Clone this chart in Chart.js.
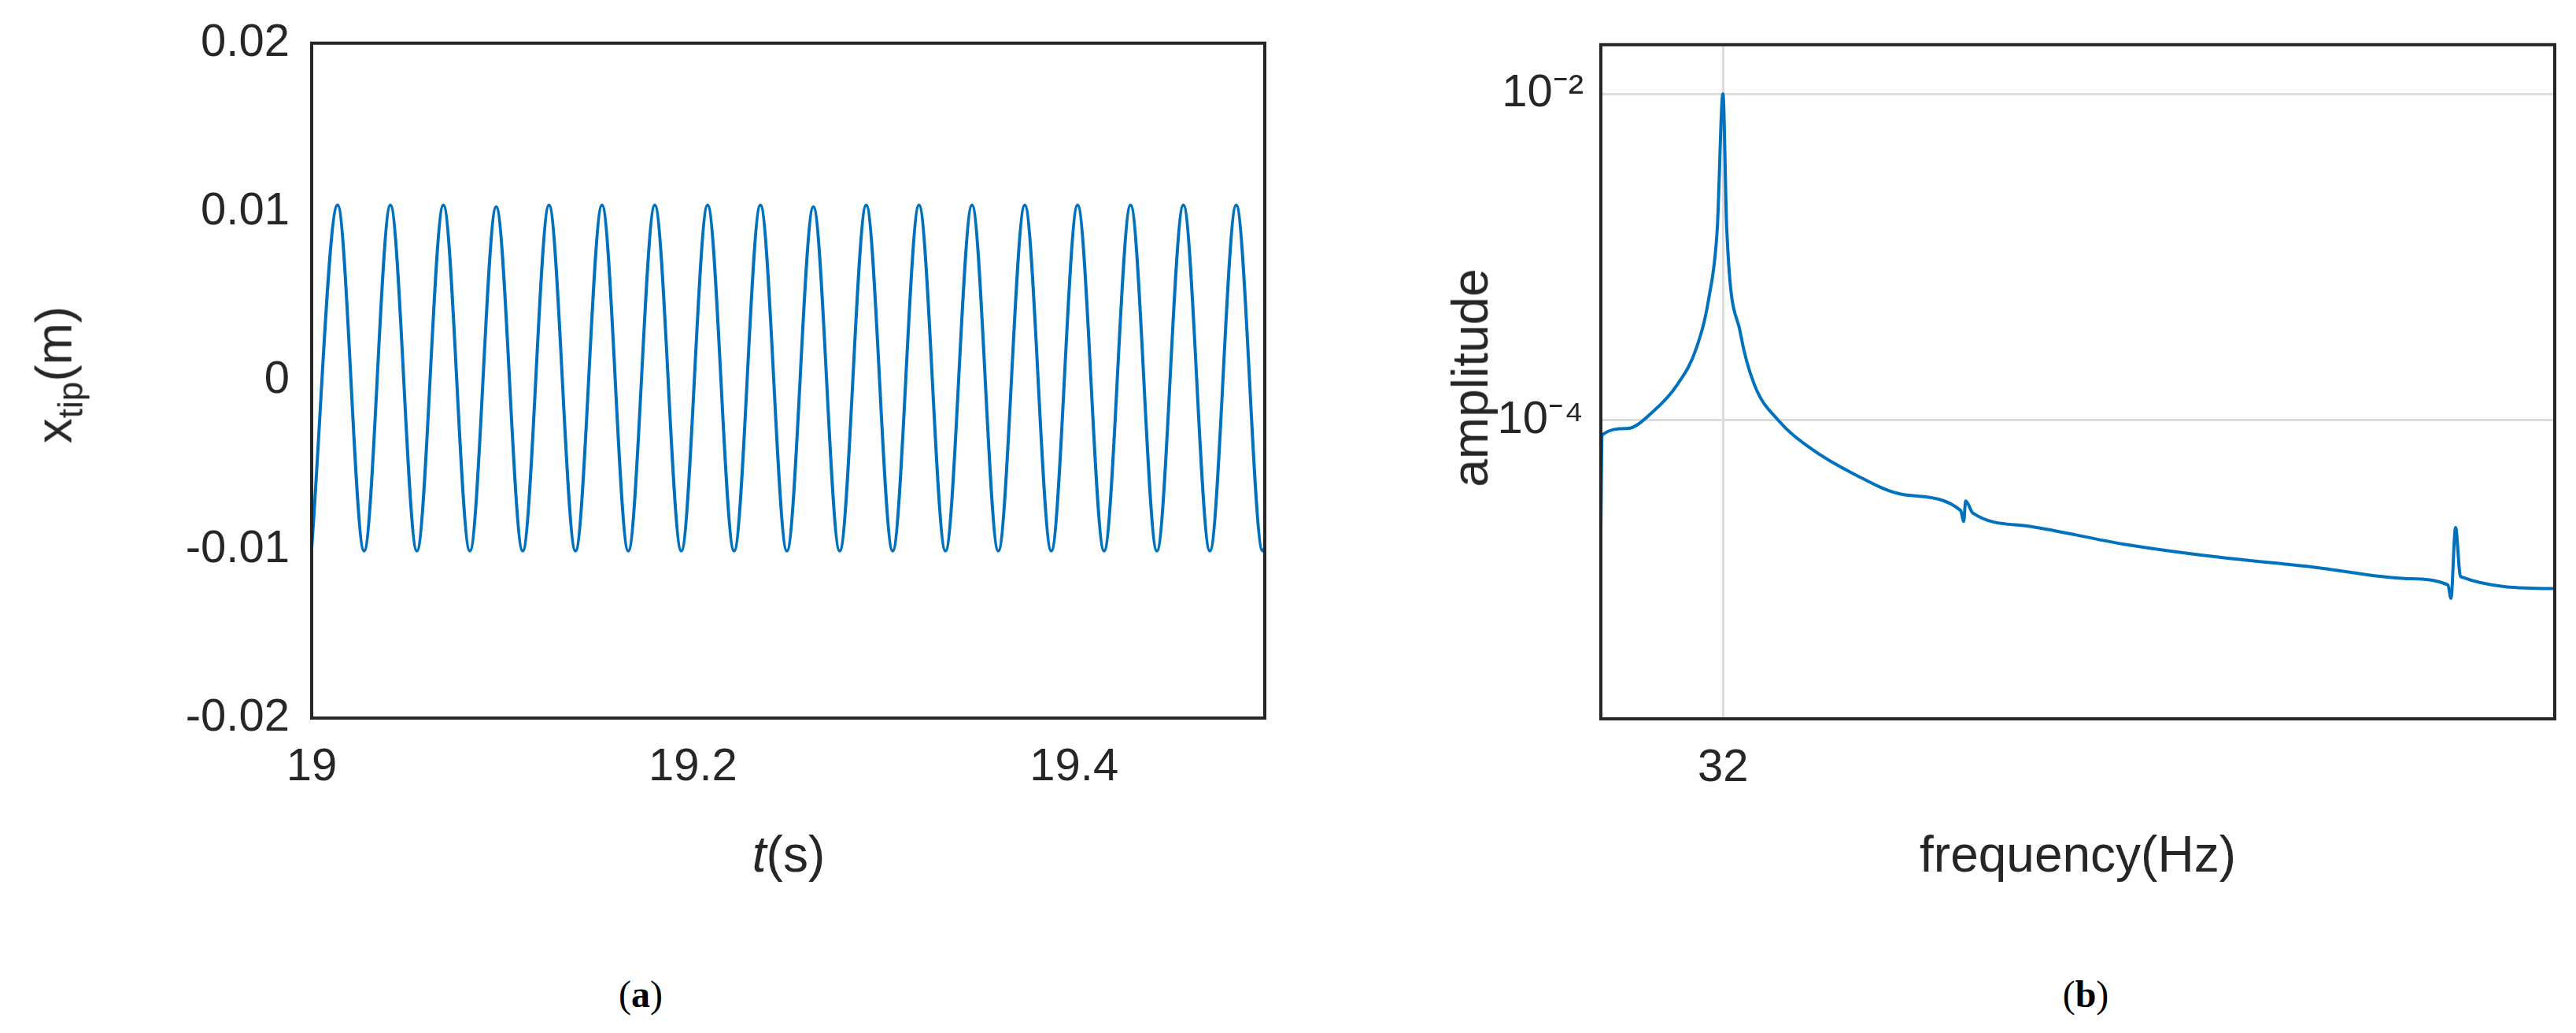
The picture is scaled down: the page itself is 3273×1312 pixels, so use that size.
<!DOCTYPE html>
<html>
<head>
<meta charset="utf-8">
<script src="https://cdn.jsdelivr.net/npm/chart.js@4"></script>
<style>
  body { margin: 0; width: 3273px; height: 1312px; background: #fff; position: relative; overflow: hidden; }
  .box { position: absolute; }
  .lbl { position: absolute; font-family: "Liberation Sans", Arial, sans-serif; font-size: 64px; color: #262626; white-space: nowrap; }
  .cap { position: absolute; font-family: "Liberation Serif", "Times New Roman", serif; font-size: 48px; color: #000; }
</style>
</head>
<body>
<div class="box" style="left:0;top:0;width:1640px;height:1000px"><canvas id="timeChart"></canvas></div>
<div class="box" style="left:1640px;top:0;width:1633px;height:1000px"><canvas id="fftChart"></canvas></div>

<div class="lbl" style="left:73px;top:476px;transform:translate(-50%,-50%) rotate(-90deg)">x<sub style="font-size:44px">tip</sub>(m)</div>
<div class="lbl" style="left:1002px;top:1085px;transform:translate(-50%,-50%)"><i>t</i>(s)</div>
<div class="lbl" style="left:1868px;top:480px;transform:translate(-50%,-50%) rotate(-90deg)">amplitude</div>
<div class="lbl" style="left:2640px;top:1085px;transform:translate(-50%,-50%)">frequency(Hz)</div>
<div class="cap" style="left:814px;top:1262px;transform:translate(-50%,-50%)">(<b>a</b>)</div>
<div class="cap" style="left:2650px;top:1262px;transform:translate(-50%,-50%)">(<b>b</b>)</div>

<script>
// (a) tip displacement, extrema
var timeS = [19.0, 19.0136, 19.0275, 19.0413, 19.0552, 19.0691, 19.0830, 19.0968, 19.1107,
  19.1245, 19.1384, 19.1523, 19.1661, 19.1800, 19.1939, 19.2077, 19.2216, 19.2354, 19.2493,
  19.2632, 19.2770, 19.2909, 19.3048, 19.3186, 19.3325, 19.3464, 19.3602, 19.3741, 19.3880,
  19.4018, 19.4157, 19.4296, 19.4434, 19.4573, 19.4712, 19.4850, 19.4989, 19.5];
var tipM = [-0.0099, 0.0104, -0.0101, 0.0104, -0.0101, 0.0104, -0.0101, 0.0103, -0.0101,
  0.0104, -0.0101, 0.0104, -0.0101, 0.0104, -0.0101, 0.0104, -0.0101, 0.0104, -0.0101,
  0.0103, -0.0101, 0.0104, -0.0101, 0.0104, -0.0101, 0.0104, -0.0101, 0.0104, -0.0101,
  0.0104, -0.0101, 0.0104, -0.0101, 0.0104, -0.0101, 0.0104, -0.0101, -0.0099];
var timeTicks = [19, 19.2, 19.4];
var tipTicks = [-0.02, -0.01, 0, 0.01, 0.02];

// (b) spectrum
var freqHz = [0, 0.3, 6.9, 13.5, 20.1, 25.0, 28.3, 30.5, 32.0, 33.0, 36.6, 40.2, 46.5, 54.7,
  66.2, 79.4, 94.3, 95.1, 95.6, 97.5, 112.4, 137.1, 161.8, 186.6, 211.3, 222.0, 222.8, 224.0,
  225.3, 250];
var ampl = [2.09e-5, 8.1e-5, 8.9e-5, 1.12e-4, 1.66e-4, 2.75e-4, 5.6e-4, 1.48e-3, 1.0e-2, 1.48e-3,
  3.4e-4, 1.66e-4, 1.0e-4, 6.8e-5, 4.7e-5, 3.5e-5, 2.8e-5, 2.4e-5, 3.2e-5, 2.7e-5, 2.24e-5,
  1.74e-5, 1.45e-5, 1.26e-5, 1.07e-5, 9.8e-6, 8.1e-6, 2.2e-5, 1.10e-5, 9.3e-6];
var freqTicks = [32];
var amplTicks = [1e-4, 1e-2];

var tickFont = { family: "'Liberation Sans', Arial, sans-serif", size: 58 };
var ink = '#262626';

// box around the plot area, like matlab's axes
var frame = {
  id: 'frame',
  afterDraw: function (chart) {
    var a = chart.chartArea, c = chart.ctx;
    c.save();
    c.strokeStyle = ink;
    c.lineWidth = 4;
    c.strokeRect(a.left, a.top, a.right - a.left, a.bottom - a.top);
    c.restore();
  }
};

function fixed(values) {
  return function (scale) { scale.ticks = values.map(v => ({ value: v })); };
}

new Chart(document.getElementById('timeChart'), {
  type: 'line',
  data: {
    datasets: [{
      data: timeS.map((t, i) => ({ x: t, y: tipM[i] })),
      borderColor: '#0072BD',
      borderWidth: 4,
      pointRadius: 0,
      cubicInterpolationMode: 'monotone'
    }]
  },
  options: {
    responsive: true, maintainAspectRatio: false, animation: false,
    layout: { padding: { top: 45, right: 33 } },
    plugins: { legend: { display: false }, tooltip: { enabled: false } },
    scales: {
      x: {
        type: 'linear', min: 19, max: 19.5,
        afterBuildTicks: fixed(timeTicks),
        afterFit: s => { s.height = 88; },
        grid: { display: false }, border: { display: false },
        ticks: { font: tickFont, color: ink, padding: 20, maxRotation: 0, callback: v => String(v) }
      },
      y: {
        min: -0.02, max: 0.02,
        afterBuildTicks: fixed(tipTicks),
        afterFit: s => { s.width = 396; },
        grid: { display: false }, border: { display: false },
        ticks: { font: tickFont, color: ink, padding: 20, callback: v => v === 0 ? '0' : v.toFixed(2) }
      }
    }
  },
  plugins: [frame]
});

new Chart(document.getElementById('fftChart'), {
  type: 'line',
  data: {
    datasets: [{
      data: freqHz.map((f, i) => ({ x: f, y: ampl[i] })),
      borderColor: '#0072BD',
      borderWidth: 4,
      pointRadius: 0,
      cubicInterpolationMode: 'monotone'
    }]
  },
  options: {
    responsive: true, maintainAspectRatio: false, animation: false,
    layout: { padding: { top: 46, right: 27 } },
    plugins: { legend: { display: false }, tooltip: { enabled: false } },
    scales: {
      x: {
        type: 'linear', min: 0, max: 250,
        afterBuildTicks: fixed(freqTicks),
        afterFit: s => { s.height = 87; },
        grid: { color: '#dcdcdc', lineWidth: 3, drawTicks: false }, border: { display: false },
        ticks: { font: tickFont, color: ink, padding: 28, maxRotation: 0 }
      },
      y: {
        type: 'logarithmic', min: 1.48e-6, max: 2.0e-2,
        afterBuildTicks: fixed(amplTicks),
        afterFit: s => { s.width = 394; },
        grid: { color: '#dcdcdc', lineWidth: 3, drawTicks: false }, border: { display: false },
        ticks: { font: tickFont, color: ink, padding: 22, callback: v => v === 1e-2 ? '10⁻²' : '10⁻⁴' }
      }
    }
  },
  plugins: [frame]
});
</script>
</body>
</html>
